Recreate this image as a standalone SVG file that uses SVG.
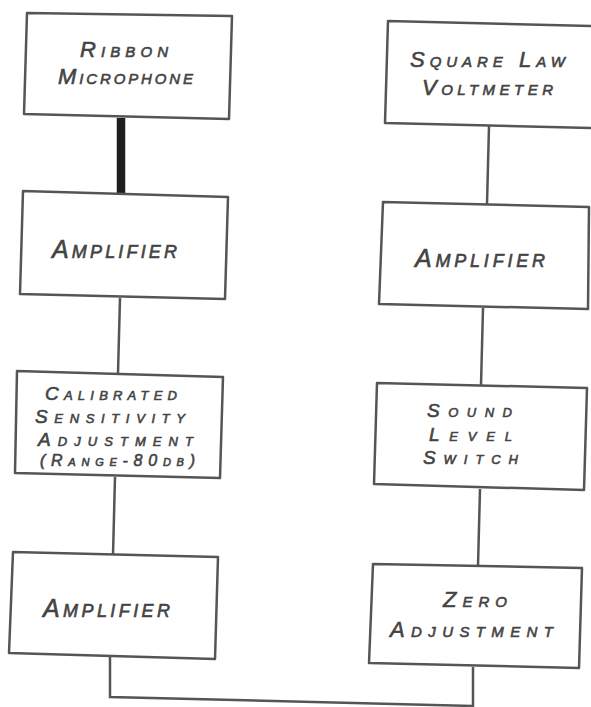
<svg xmlns="http://www.w3.org/2000/svg" width="591" height="707" viewBox="0 0 591 707">
<style>
.box{fill:#fff;stroke:#555;stroke-width:2.5;stroke-linejoin:round}
.ln{fill:none;stroke:#555;stroke-width:2.5}
.thick{fill:none;stroke:#1e1e1e;stroke-width:8.5}
text{font-family:"Liberation Sans",Arial,sans-serif;font-style:italic;font-variant:small-caps;fill:#444;stroke:#444;stroke-width:0.6;font-size:22px}
.big{font-size:25px}
.md{font-size:19px}
.sm{font-size:16px}
</style>
<rect width="591" height="707" fill="#fff"/>
<g id="connectors">
<line class="thick" x1="121" y1="118" x2="121" y2="194"/>
<line class="ln" x1="120" y1="298" x2="118" y2="373"/>
<line class="ln" x1="115" y1="477" x2="113" y2="555"/>
<polyline class="ln" points="110,656 110,697 473,706"/>
<line class="ln" x1="489" y1="126" x2="487" y2="204"/>
<line class="ln" x1="483" y1="308" x2="481" y2="385"/>
<line class="ln" x1="480" y1="489" x2="478" y2="566"/>
<line class="ln" x1="473" y1="667" x2="473" y2="707"/>
</g>
<g id="ribbon-microphone">
<polygon class="box" points="27,13 232,16 229,119 24,114"/>
<text x="80" y="57" textLength="88">Ribbon</text>
<text x="58" y="84" textLength="135">Microphone</text>
</g>
<g id="amplifier-1">
<polygon class="box" points="23,191 228,197 225,299 20,294"/>
<text class="big" x="52" y="258" textLength="125">Amplifier</text>
</g>
<g id="calibrated-sensitivity">
<polygon class="box" points="17,371 223,377 220,478 15,473"/>
<text class="md" x="45" y="400" textLength="132">Calibrated</text>
<text class="md" x="35" y="423" textLength="150">Sensitivity</text>
<text class="md" x="38" y="446" textLength="155">Adjustment</text>
<text class="sm" x="40" y="466" textLength="155">(Range-80db)</text>
</g>
<g id="amplifier-2">
<polygon class="box" points="13,552 218,557 215,659 9,653"/>
<text class="big" x="43" y="617" textLength="127">Amplifier</text>
</g>
<g id="square-law-voltmeter">
<polygon class="box" points="388,21 593,26 593,128 385,123"/>
<text x="410" y="67" textLength="155">Square Law</text>
<text x="422" y="95" textLength="131">Voltmeter</text>
</g>
<g id="amplifier-3">
<polygon class="box" points="383,202 589,207 588,309 379,304"/>
<text class="big" x="415" y="267" textLength="130">Amplifier</text>
</g>
<g id="sound-level-switch">
<polygon class="box" points="377,383 587,388 584,490 374,484"/>
<text class="md" x="427" y="417" textLength="85">Sound</text>
<text class="md" x="429" y="441" textLength="83">Level</text>
<text class="md" x="423" y="464" textLength="95">Switch</text>
</g>
<g id="zero-adjustment">
<polygon class="box" points="373,564 582,568 579,668 369,663"/>
<text x="443" y="607" textLength="64">Zero</text>
<text x="390" y="637" textLength="163">Adjustment</text>
</g>
</svg>
